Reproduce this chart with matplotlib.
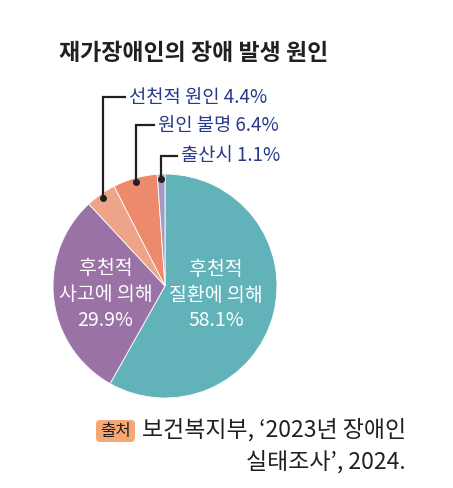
import matplotlib
matplotlib.use("Agg")
import matplotlib.pyplot as plt
import numpy as np
from matplotlib.patches import FancyBboxPatch

plt.rcParams['font.family'] = ['Noto Sans CJK KR', 'DejaVu Sans']

# data
causes = ['후천적 질환에 의해', '후천적 사고에 의해', '선천적 원인', '원인 불명', '출산시']
shares = [58.1, 29.9, 4.4, 6.4, 1.1]
colors = ['#62b3b9', '#9b72a6', '#eda488', '#ee8a6c', '#a59ac6']
inside_labels = ['후천적\n질환에 의해\n58.1%', '후천적\n사고에 의해\n29.9%']
title = '재가장애인의 장애 발생 원인'

W, H = 453, 488
fig = plt.figure(figsize=(W / 100, H / 100), dpi=100)
ax = fig.add_axes([0, 0, 1, 1])

cx, cy, r = 165, H - 286, 112
wedges, _ = ax.pie(shares, colors=colors, startangle=90, counterclock=False,
                   center=(cx, cy), radius=r, frame=True,
                   wedgeprops=dict(edgecolor='white', linewidth=0.6))
ax.set_xlim(0, W)
ax.set_ylim(0, H)
ax.axis('off')

# labels inside the big slices
for w, lab, off in zip(wedges[:2], inside_labels, [(-3, 5), (-4, -2)]):
    ang = np.deg2rad((w.theta1 + w.theta2) / 2)
    x = cx + 0.5 * r * np.cos(ang) + off[0]
    y = cy + 0.5 * r * np.sin(ang) + off[1]
    ax.text(x, y, lab, ha='center', va='center', color='white',
            fontsize=14, linespacing=1.3)

# leader lines for the small slices
navy = '#28398a'
text_y = {'선천적 원인': H - 97, '원인 불명': H - 125, '출산시': H - 156}
line_len = {'선천적 원인': 22, '원인 불명': 18, '출산시': 16}
for w, name, val in zip(wedges[2:], causes[2:], shares[2:]):
    ang = np.deg2rad((w.theta1 + w.theta2) / 2)
    dx = cx + 0.96 * r * np.cos(ang)
    dy = cy + 0.96 * r * np.sin(ang)
    ty = text_y[name]
    ax.plot([dx, dx, dx + line_len[name]], [dy, ty, ty], color='#231f20', lw=1.6,
            solid_joinstyle='miter')
    ax.plot(dx, dy, 'o', color='#231f20', ms=4)
    ax.text(dx + line_len[name] + 4, ty, f'{name} {val}%', ha='left', va='center',
            color=navy, fontsize=13.5)

# title
ax.text(59, H - 53, title, ha='left', va='center', fontsize=16.5,
        fontweight='bold', color='#231f20')

# source
badge = FancyBboxPatch((96, H - 442), 39, 22, boxstyle='round,pad=0,rounding_size=4',
                       facecolor='#f5a874', edgecolor='none')
ax.add_patch(badge)
ax.text(115.5, H - 431.5, '출처', ha='center', va='center', fontsize=12, color='#231f20')
ax.text(142, H - 430, '보건복지부, ‘2023년 장애인', ha='left', va='center',
        fontsize=16.5, color='#231f20')
ax.text(406, H - 462, '실태조사’, 2024.', ha='right', va='center',
        fontsize=16.5, color='#231f20')

fig.savefig('out.png', dpi=100, facecolor='white')
